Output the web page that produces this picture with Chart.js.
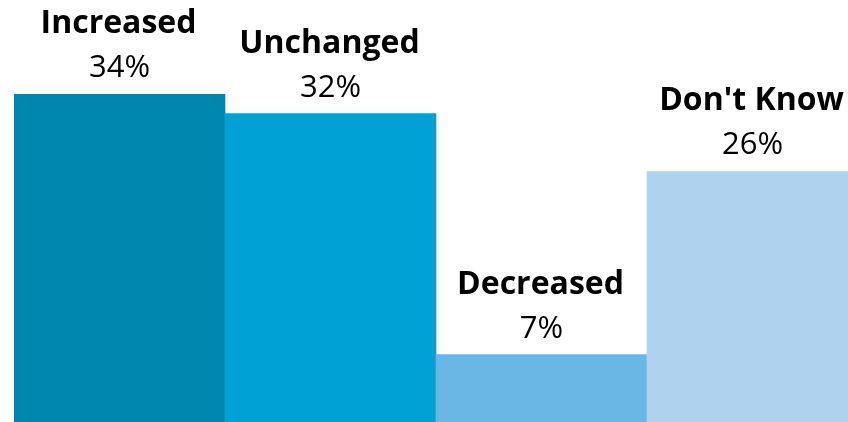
<!DOCTYPE html>
<html lang="en">
  <head>
    <meta charset="UTF-8" />
    <title>Change</title>
    <script src="https://cdn.jsdelivr.net/npm/chart.js"></script>
    <style>
      html,
      body {
        margin: 0;
        padding: 0;
        background: #fff;
        overflow: hidden;
      }
      #wrap {
        width: 848px;
        height: 422px;
        overflow: hidden;
      }
    </style>
  </head>
  <body>
    <div id="wrap">
      <canvas id="chart" width="858" height="422"></canvas>
    </div>

    <script>
      const categories = ["Increased", "Unchanged", "Decreased", "Don't Know"];
      const values = [34, 32, 7, 26];
      const barColors = ["#0087AF", "#00A1D4", "#69B7E4", "#AFD3EE"];

      // names + percentages above each bar
      const barLabels = {
        id: "barLabels",
        afterDatasetsDraw(chart) {
          const ctx = chart.ctx;
          const meta = chart.getDatasetMeta(0);
          ctx.save();
          ctx.textAlign = "center";
          ctx.textBaseline = "alphabetic";
          ctx.fillStyle = "#000";
          meta.data.forEach((bar, i) => {
            ctx.font = "400 31px 'Open Sans'";
            ctx.fillText(values[i] + "%", bar.x, bar.y - 17);
            ctx.font = "700 32px 'Open Sans'";
            ctx.fillText(categories[i], bar.x - 1, bar.y - 61);
          });
          ctx.restore();
        },
      };

      new Chart(document.getElementById("chart"), {
        type: "bar",
        data: {
          labels: categories,
          datasets: [
            {
              data: values,
              backgroundColor: barColors,
              borderWidth: 0,
              categoryPercentage: 1,
              barPercentage: 1,
            },
          ],
        },
        options: {
          responsive: false,
          animation: false,
          layout: { padding: { left: 14, right: 0, top: 0, bottom: 0 } },
          plugins: {
            legend: { display: false },
            tooltip: { enabled: false },
          },
          scales: {
            x: { display: false },
            y: { display: false, min: 0, max: 43.8 },
          },
        },
        plugins: [barLabels],
      });
    </script>
  </body>
</html>
